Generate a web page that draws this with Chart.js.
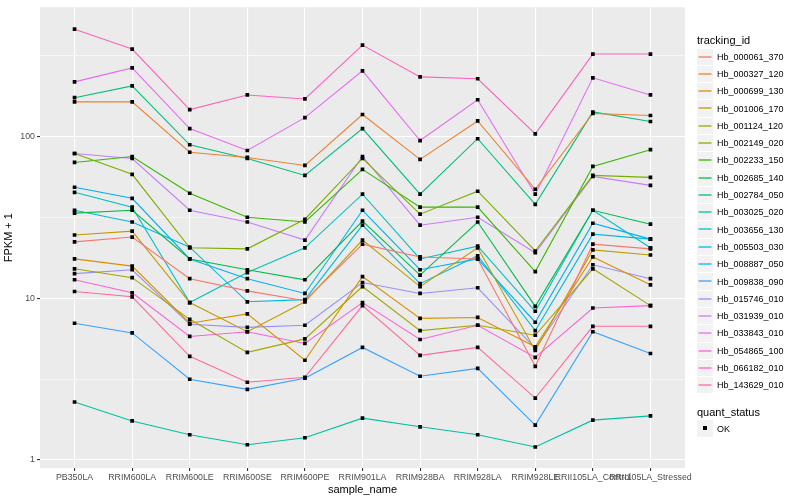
<!DOCTYPE html>
<html lang="en">
<head>
    <meta charset="UTF-8">
    <title>FPKM by sample</title>
    <script src="https://cdn.jsdelivr.net/npm/chart.js"></script>
    <style>
        body { margin: 0; background: #FFFFFF; font-family: "Liberation Sans", Arial, sans-serif; }
        #wrap { position: relative; width: 800px; height: 500px; }
        #fpkm-chart { position: absolute; left: 0; top: 0; }
        #legend { position: absolute; left: 697px; top: 32px; font-size: 9px; color: #000; }
        #legend .ttl { font-size: 11px; height: 16px; line-height: 16px; }
        #legend .row { height: 17.3px; display: flex; align-items: center; }
        #legend .key { width: 16px; height: 16.3px; background: #F2F2F2; margin-right: 4px; display: block; }
    </style>
</head>
<body>
<div id="wrap">
    <canvas id="fpkm-chart" width="800" height="500"></canvas>
    <div id="legend"></div>
</div>

<script>
    // samples (x axis)
    const samples = ['PB350LA', 'RRIM600LA', 'RRIM600LE', 'RRIM600SE', 'RRIM600PE', 'RRIM901LA',
        'RRIM928BA', 'RRIM928LA', 'RRIM928LE', 'RRII105LA_Control', 'RRII105LA_Stressed'];

    const trackingIds = ['Hb_000061_370', 'Hb_000327_120', 'Hb_000699_130', 'Hb_001006_170', 'Hb_001124_120',
        'Hb_002149_020', 'Hb_002233_150', 'Hb_002685_140', 'Hb_002784_050', 'Hb_003025_020',
        'Hb_003656_130', 'Hb_005503_030', 'Hb_008887_050', 'Hb_009838_090', 'Hb_015746_010',
        'Hb_031939_010', 'Hb_033843_010', 'Hb_054865_100', 'Hb_066182_010', 'Hb_143629_010'];

    // ggplot default hue palette, 20 levels
    const colours = ['#F8766D', '#EA8331', '#D89000', '#C09B00', '#A3A500', '#7CAE00', '#39B600', '#00BB4E',
        '#00BF7D', '#00C1A3', '#00BFC4', '#00BAE0', '#00B0F6', '#35A2FF', '#9590FF', '#C77CFF',
        '#E76BF3', '#FA62DB', '#FF62BC', '#FF6A98'];

    // FPKM + 1 per sample
    const hb000061 = [22.3, 23.9, 13.2, 11.1, 9.65, 21.6, 18.0, 17.5, 3.79, 21.6, 20.2];
    const hb000327 = [164, 164, 80, 74.3, 66.3, 137, 72.2, 125, 47.2, 139, 135];
    const hb000699 = [17.5, 15.8, 7.0, 8.0, 4.13, 13.6, 7.5, 7.6, 5.0, 18.0, 12.1];
    const hb001006 = [24.6, 26.0, 9.4, 6.2, 9.5, 22.9, 11.8, 20.5, 4.75, 19.9, 18.5];
    const hb001124 = [15.2, 13.4, 7.4, 4.62, 5.6, 11.8, 6.3, 6.8, 5.9, 15.2, 9.0];
    const hb002149 = [78.6, 58.4, 20.5, 20.2, 30.8, 73.2, 33.1, 45.9, 19.6, 57.5, 55.9];
    const hb002233 = [69.2, 75.3, 44.6, 31.7, 29.6, 62.7, 36.6, 36.6, 14.6, 65.4, 83];
    const hb002685 = [33.6, 35.0, 17.5, 15.0, 13.0, 30.0, 13.9, 29.6, 8.9, 35.0, 28.7];
    const hb002784 = [174, 206, 89, 73.2, 57.5, 112, 44.0, 97, 38.1, 142, 124];
    const hb003025 = [2.28, 1.74, 1.43, 1.24, 1.37, 1.81, 1.60, 1.43, 1.20, 1.76, 1.87];
    const hb003656 = [45.2, 36.6, 9.4, 14.4, 20.5, 44.0, 17.5, 21.0, 8.3, 35.0, 20.5];
    const hb005503 = [35.0, 29.6, 20.7, 9.5, 9.8, 28.3, 12.3, 18.3, 6.3, 24.9, 23.2];
    const hb008887 = [48.6, 41.5, 17.5, 13.2, 10.7, 35.0, 15.0, 17.5, 7.1, 29.1, 23.2];
    const hb009838 = [7.0, 6.1, 3.15, 2.73, 3.2, 4.96, 3.29, 3.68, 1.64, 6.2, 4.55];
    const hb015746 = [14.2, 15.0, 6.9, 6.6, 6.8, 12.5, 10.7, 11.6, 4.89, 16.1, 13.2];
    const hb031939 = [78.6, 73.2, 35.0, 29.6, 22.9, 75.3, 28.3, 31.7, 19.1, 56.7, 49.9];
    const hb033843 = [218, 266, 112, 82, 131, 255, 94.5, 169, 44.0, 231, 181];
    const hb054865 = [13.0, 10.8, 5.8, 6.2, 5.25, 9.4, 5.55, 6.8, 4.30, 8.7, 9.0];
    const hb066182 = [462, 348, 147, 181, 171, 368, 234, 228, 104, 324, 324];
    const hb143629 = [11.0, 10.2, 4.37, 3.02, 3.24, 9.0, 4.43, 4.96, 2.41, 6.7, 6.7];

    const seriesValues = [hb000061, hb000327, hb000699, hb001006, hb001124, hb002149, hb002233, hb002685,
        hb002784, hb003025, hb003656, hb005503, hb008887, hb009838, hb015746, hb031939, hb033843,
        hb054865, hb066182, hb143629];

    // y ticks: labelled breaks and the minor breaks between them
    const yMajor = [1, 10, 100];
    const yMinor = [3.1623, 31.623, 316.23];

    const panelBg = {
        id: 'panelBg',
        beforeDraw(chart) {
            const { ctx, chartArea: a } = chart;
            ctx.save();
            ctx.fillStyle = '#EBEBEB';
            ctx.fillRect(a.left, a.top, a.right - a.left, a.bottom - a.top);
            ctx.restore();
        }
    };

    const datasets = [];
    seriesValues.forEach((vals, k) => {
        const pts = vals.map((v, i) => ({ x: i, y: v }));
        datasets.push({
            label: trackingIds[k], data: pts, order: 1,
            borderColor: colours[k], borderWidth: 1.1, pointRadius: 0, tension: 0
        });
        // points go on top of every line, like the ggplot point layer
        datasets.push({
            label: trackingIds[k] + ' OK', data: pts, order: 0, showLine: false,
            pointStyle: 'rect', pointRadius: 2.6, pointBackgroundColor: '#000000', pointBorderWidth: 0
        });
    });

    new Chart(document.getElementById('fpkm-chart'), {
        type: 'line',
        data: { datasets: datasets },
        options: {
            responsive: false,
            animation: false,
            layout: { padding: { top: 5, right: 115, left: 0, bottom: 0 } },
            plugins: { legend: { display: false }, tooltip: { enabled: false } },
            scales: {
                x: {
                    type: 'linear', min: -0.6, max: 10.6,
                    afterBuildTicks: s => { s.ticks = samples.map((_, i) => ({ value: i })); },
                    afterFit: s => { s.height = 32; },
                    ticks: {
                        callback: v => samples[v], autoSkip: false, maxRotation: 0, padding: 1,
                        color: '#4D4D4D', font: { family: 'Liberation Sans', size: 8.8 }
                    },
                    grid: { color: '#FFFFFF', lineWidth: 1.1, tickColor: '#333333', tickLength: 3 },
                    border: { display: false },
                    title: { display: true, text: 'sample_name', color: '#000000', padding: { top: 0, bottom: 3 },
                        font: { family: 'Liberation Sans', size: 11 } }
                },
                y: {
                    type: 'logarithmic', min: 0.89, max: 631,
                    afterBuildTicks: s => {
                        s.ticks = [1, 3.1623, 10, 31.623, 100, 316.23].map(v => ({ value: v }));
                    },
                    afterFit: s => { s.width = 40; },
                    ticks: {
                        callback: v => yMajor.includes(v) ? String(v) : '', autoSkip: false, padding: 2,
                        color: '#4D4D4D', font: { family: 'Liberation Sans', size: 8.8 }
                    },
                    grid: {
                        color: '#FFFFFF',
                        lineWidth: c => yMinor.includes(c.tick.value) ? 0.55 : 1.1,
                        tickColor: c => yMinor.includes(c.tick.value) ? 'rgba(0,0,0,0)' : '#333333',
                        tickLength: 3
                    },
                    border: { display: false },
                    title: { display: true, text: 'FPKM + 1', color: '#000000', padding: { top: 2, bottom: 0 },
                        font: { family: 'Liberation Sans', size: 11 } }
                }
            }
        },
        plugins: [panelBg]
    });

    // legend, drawn the ggplot way
    const legend = document.getElementById('legend');
    let html = '<div class="ttl">tracking_id</div>';
    trackingIds.forEach((id, k) => {
        html += '<div class="row"><svg class="key" width="16" height="16">' +
            '<line x1="1.5" y1="8" x2="14.5" y2="8" stroke="' + colours[k] + '" stroke-width="1.3"/></svg>' + id + '</div>';
    });
    html += '<div class="ttl" style="margin-top:10px">quant_status</div>';
    html += '<div class="row"><svg class="key" width="16" height="16"><rect x="6" y="6" width="4" height="4" fill="#000"/></svg>OK</div>';
    legend.innerHTML = html;
</script>
</body>
</html>
